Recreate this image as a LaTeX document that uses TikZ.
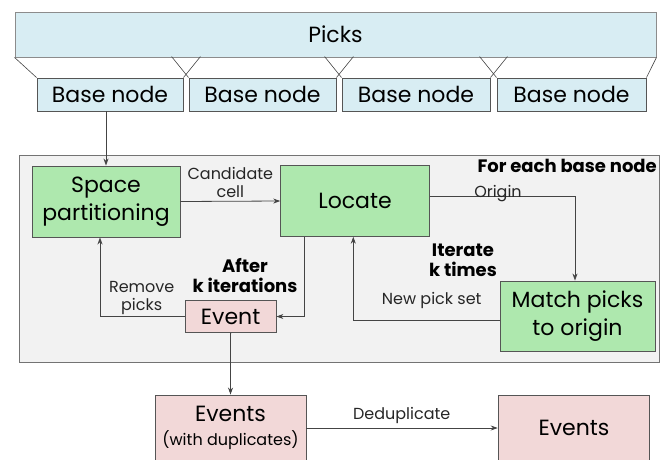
\documentclass[tikz,border=0pt]{standalone}
\usepackage{fontspec}
\setmainfont{Poppins}
\usetikzlibrary{arrows.meta,calc}
\definecolor{pickblue}{HTML}{D8EDF3}
\definecolor{boxgreen}{HTML}{AEE8AE}
\definecolor{boxpink}{HTML}{F2D8D8}
\definecolor{bggray}{HTML}{F2F2F2}
\definecolor{edgegray}{HTML}{555555}
\definecolor{linegray}{HTML}{444444}
\begin{document}
\begin{tikzpicture}[x=1pt,y=-1pt,
  box/.style={draw=edgegray, line width=0.9pt, inner sep=0pt, align=center,
    font=\fontsize{22}{28}\selectfont},
  bluebox/.style={box, fill=pickblue},
  greenbox/.style={box, fill=boxgreen},
  pinkbox/.style={box, fill=boxpink},
  lbl/.style={inner sep=0pt, align=center, font=\fontsize{16}{18}\selectfont, text=black!85},
  boldlbl/.style={inner sep=0pt, align=center, font=\fontsize{18}{20}\bfseries\selectfont},
  arr/.style={draw=linegray, line width=0.8pt, -{Stealth[length=7pt,width=5pt]}},
  thin/.style={draw=linegray, line width=0.6pt}
]
\useasboundingbox (0,0) rectangle (670,459);
\clip (0,0) rectangle (670,459);

% background group
\node[draw=black!55, line width=0.9pt, fill=bggray, minimum width=639.5pt, minimum height=207pt, inner sep=0pt] (grp) at (339.25,258.5) {};

% top
\node[bluebox, draw=black!45, minimum width=641pt, minimum height=45pt] (picks) at (335.5,34.5) {Picks};
\node[bluebox, minimum width=146pt, minimum height=33pt] (b1) at (110,94.5) {Base node};
\node[bluebox, minimum width=147pt, minimum height=33pt] (b2) at (262.5,94.5) {Base node};
\node[bluebox, minimum width=148pt, minimum height=33pt] (b3) at (416,94.5) {Base node};
\node[bluebox, minimum width=149pt, minimum height=33pt] (b4) at (571.5,94.5) {Base node};

\draw[thin] (picks.south west) -- (b1.north west);
\draw[thin] (b1.north east) -- ($(b1.north east)+(17,-21)$);
\draw[thin] (b2.north west) -- ($(b2.north west)+(-17,-21)$);
\draw[thin] (b2.north east) -- ($(b2.north east)+(17,-21)$);
\draw[thin] (b3.north west) -- ($(b3.north west)+(-17,-21)$);
\draw[thin] (b3.north east) -- ($(b3.north east)+(17,-21)$);
\draw[thin] (b4.north west) -- ($(b4.north west)+(-17,-21)$);
\draw[thin] (b4.north east) -- (picks.south east);

% inner process
\node[greenbox, minimum width=148pt, minimum height=71pt] (sp) at (106,201.5) {Space\\partitioning};
\node[greenbox, minimum width=148.6pt, minimum height=70.5pt] (loc) at (355,201) {Locate};
\node[greenbox, minimum width=155pt, minimum height=70pt] (match) at (577.5,316) {Match picks\\to origin};
\node[pinkbox, minimum width=90.7pt, minimum height=31.6pt] (ev) at (230.6,316.5) {Event};

\node[boldlbl, anchor=east] (foreach) at (657,166) {For each base node};
\node[boldlbl] (after) at (245,276) {After\\k iterations};
\node[boldlbl] (iter) at (463,260) {Iterate\\k times};

% bottom
\node[pinkbox, minimum width=151pt, minimum height=66pt] (dup) at (230.5,428) {Events\\[-4pt]{\fontsize{16}{18}\selectfont (with duplicates)}};
\node[pinkbox, minimum width=151.7pt, minimum height=66pt] (evs) at (574,428) {Events};

% connectors
\draw[arr] (b1.south -| sp.north) -- (sp.north);
\draw[arr] (sp.east) -- (loc.west) node[lbl, midway, above=3pt] (cand) {Candidate\\cell};
\draw[arr] ([yshift=4.5pt]loc.east) -| ([xshift=-2.5pt]match.north);
\node[lbl] (origin) at (498,194) {Origin};
\draw[arr] ([yshift=-4.3pt]match.west) -| ([xshift=-1.7pt]loc.south);
\node[lbl] (nps) at (431.7,300.5) {New pick set};
\draw[arr] ([xshift=-51pt]loc.south) |- (ev.east);
\draw[arr] (ev.west) -| ([xshift=-6pt]sp.south);
\node[lbl] (remove) at (141.7,298) {Remove\\picks};
\draw[arr] (ev.south) -- (dup.north);
\draw[arr] (dup.east) -- (evs.west);
\node[lbl] (dedup) at (401.7,415) {Deduplicate};
\end{tikzpicture}
\end{document}
